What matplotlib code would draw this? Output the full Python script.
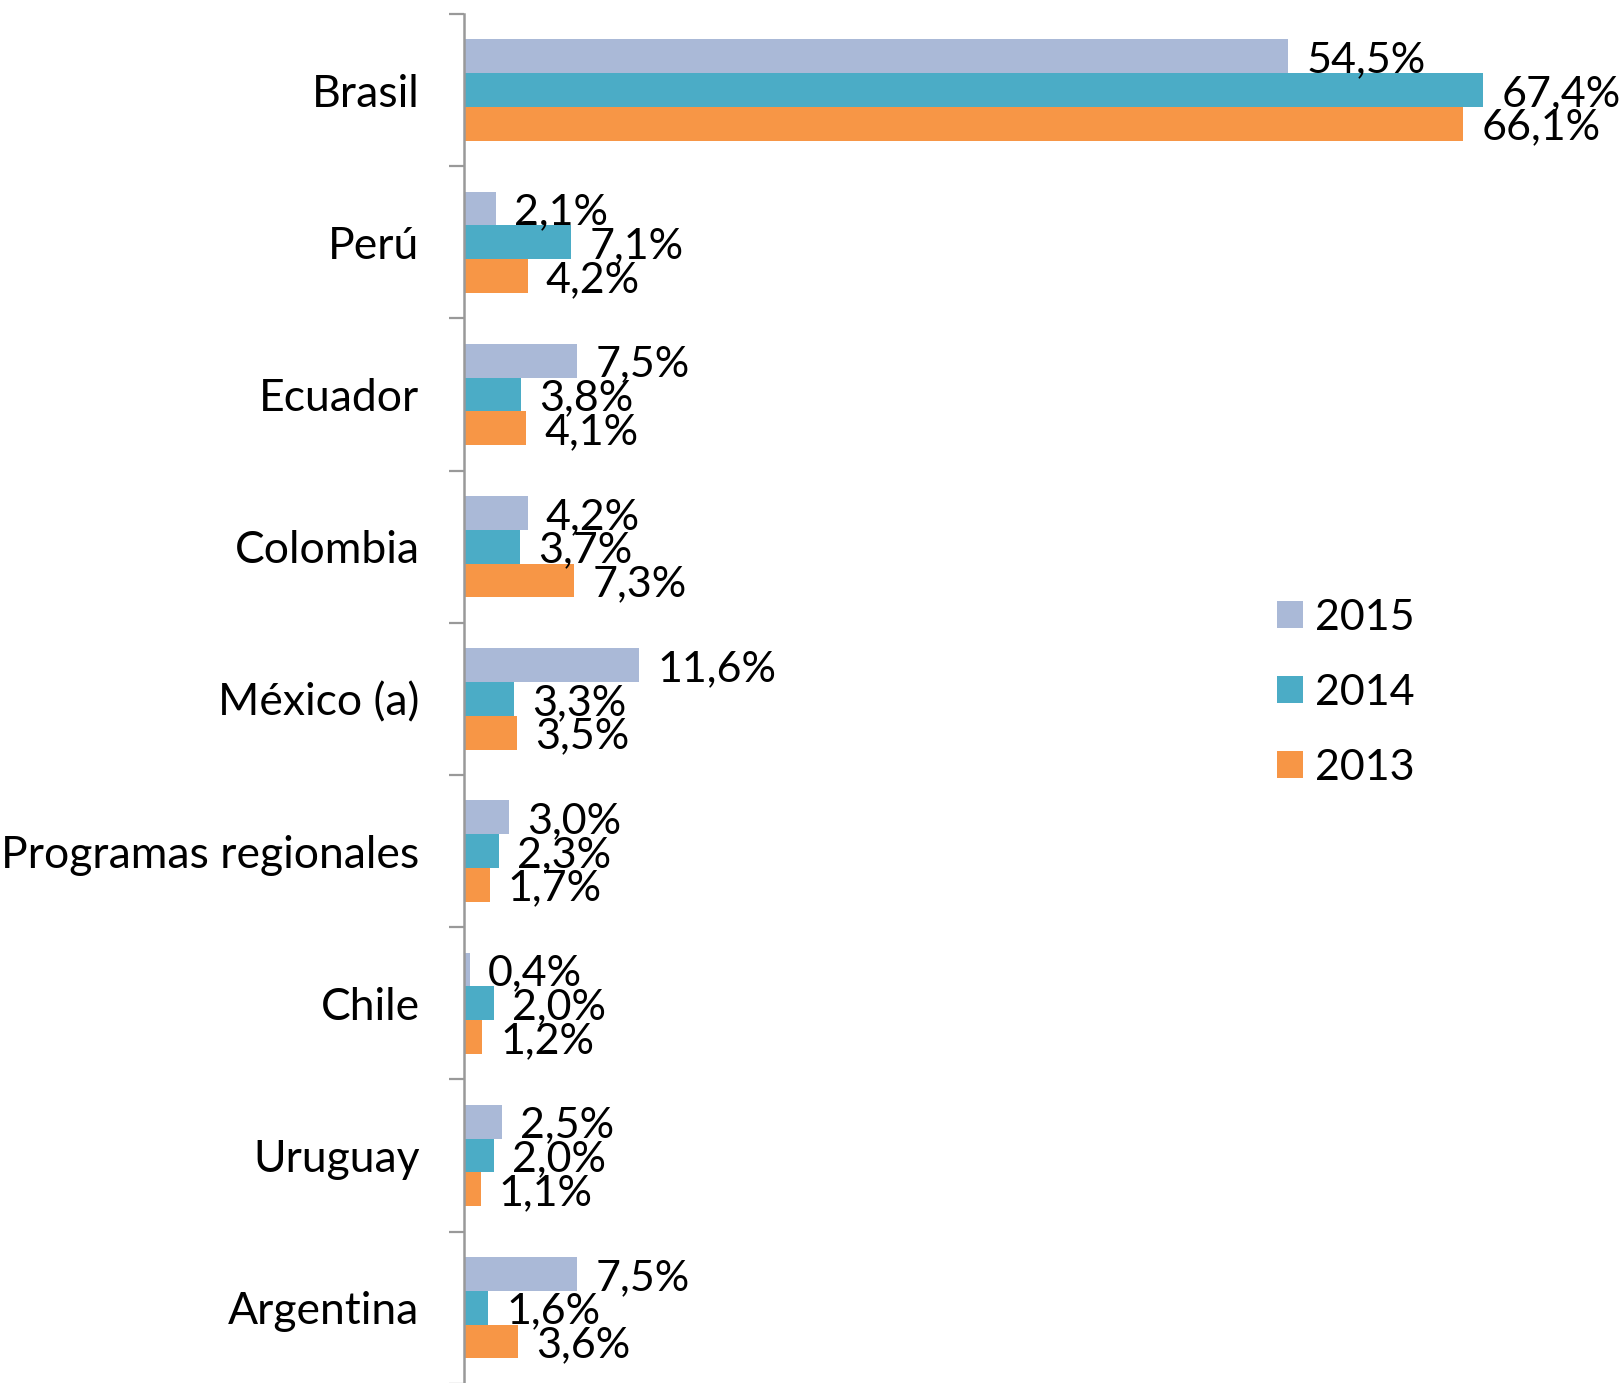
import numpy as np
import matplotlib
matplotlib.use('Agg')
import matplotlib.pyplot as plt
from matplotlib.patches import Patch

plt.rcParams['font.family'] = ['Lato', 'DejaVu Sans']

paises = ['Brasil', 'Perú', 'Ecuador', 'Colombia', 'México (a)',
          'Programas regionales', 'Chile', 'Uruguay', 'Argentina']
anios = ['2015', '2014', '2013']
v2015 = [54.5, 2.1, 7.5, 4.2, 11.6, 3.0, 0.4, 2.5, 7.5]
v2014 = [67.4, 7.1, 3.8, 3.7, 3.3, 2.3, 2.0, 2.0, 1.6]
v2013 = [66.1, 4.2, 4.1, 7.3, 3.5, 1.7, 1.2, 1.1, 3.6]
colores = ['#AAB9D7', '#4BACC6', '#F79646']

W, H = 1623, 1383
paso = 152.2  # pixeles por categoria
fig = plt.figure(figsize=(W / 100, H / 100), dpi=100)
ax = fig.add_axes([464 / W, (H - 14 - 9 * paso) / H, 1 - 464 / W, 9 * paso / H])

y = np.arange(len(paises))
bar_h = 0.222
series = [v2015, v2014, v2013]
for i, (vals, col) in enumerate(zip(series, colores)):
    pos = y + (i - 1) * bar_h
    ax.barh(pos, vals, height=bar_h, color=col, edgecolor='none')
    for p, v in zip(pos, vals):
        ax.text(v + 1.2, p + 0.025, f'{v:.1f}%'.replace('.', ','), va='center', ha='left',
                fontsize=31, color='black')

ax.set_xlim(0, (W - 464) / 15.12)
ax.set_ylim(len(paises) - 0.5, -0.5)
ax.set_yticks(y)
ax.set_yticklabels(paises, fontsize=32)
ax.set_yticks(np.arange(len(paises) + 1) - 0.5, minor=True)
ax.tick_params(axis='y', which='major', length=0, pad=32)
ax.tick_params(axis='y', which='minor', length=11, width=1.6, color='#999999')
ax.set_xticks([])
for s in ['top', 'right', 'bottom']:
    ax.spines[s].set_visible(False)
ax.spines['left'].set_color('#999999')
ax.spines['left'].set_linewidth(1.8)

handles = [Patch(facecolor=c, edgecolor='none', label=a) for c, a in zip(colores, anios)]
leg = fig.legend(handles=handles, loc='upper left', bbox_to_anchor=(1238 / W, 1 - 560 / H),
                 frameon=False, fontsize=31, handlelength=0.6, handleheight=0.6,
                 handletextpad=0.28, labelspacing=0.86)

fig.savefig('out.png', dpi=100)
